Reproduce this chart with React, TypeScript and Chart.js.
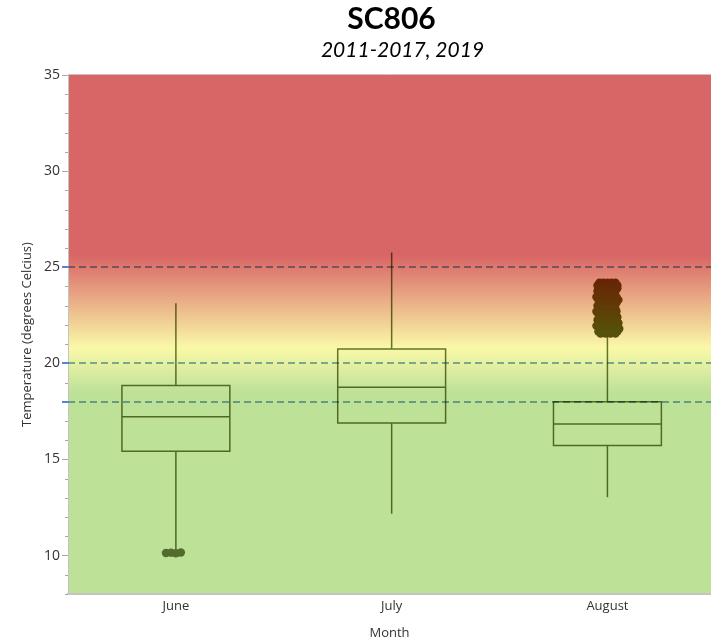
import React, { useEffect, useRef } from 'react';
import { Chart, registerables } from 'chart.js';
Chart.register(...registerables);

// ---- data ----
const months = ['June', 'July', 'August'];
const whiskerLow = [10.25, 12.18, 13.03];
const q1 = [15.42, 16.9, 15.72];
const median = [17.22, 18.75, 16.85];
const q3 = [18.85, 20.74, 18.0];
const whiskerHigh = [23.13, 25.76, 21.45];

// June outliers
const juneOutX = [-0.046, -0.023, 0.0, 0.023];
const juneOutY = [10.13, 10.15, 10.12, 10.16];

// August outliers (rows of the cluster)
const augRowY = [24.2, 24.05, 23.9, 23.75, 23.6, 23.45, 23.3, 23.15, 23.0, 22.85, 22.7, 22.55, 22.4, 22.25, 22.1, 21.95, 21.8, 21.65, 21.55];
const augRowX = [
  [-0.037, -0.019, 0.0, 0.019, 0.037],
  [-0.046, -0.028, -0.009, 0.009, 0.028, 0.046],
  [-0.042, -0.023, 0.0, 0.023, 0.046],
  [-0.046, -0.028, -0.009, 0.014, 0.037],
  [-0.037, -0.014, 0.009, 0.032],
  [-0.051, -0.028, 0.0, 0.023, 0.042],
  [-0.042, -0.019, 0.009, 0.032, 0.051],
  [-0.032, -0.009, 0.019, 0.042],
  [-0.046, -0.023, 0.0, 0.028],
  [-0.037, -0.014, 0.014, 0.037],
  [-0.051, -0.028, -0.005, 0.019, 0.042],
  [-0.042, -0.019, 0.005, 0.032],
  [-0.032, -0.009, 0.019, 0.046],
  [-0.046, -0.023, 0.0, 0.023, 0.042],
  [-0.037, -0.014, 0.009, 0.032, 0.051],
  [-0.051, -0.023, 0.0, 0.023, 0.046],
  [-0.037, -0.014, 0.009, 0.032, 0.055],
  [-0.042, -0.019, 0.005, 0.028, 0.046],
  [-0.032, -0.009, 0.014, 0.037],
];

const thresholds = [25, 20, 18];
const bandValues = [25.6, 20.8, 18.5];
const bandColors = ['rgb(217,102,102)', 'rgb(250,249,168)', 'rgb(190,225,152)'];

const titleText = 'SC806';
const subtitleText = '2011-2017, 2019';
const yTitle = 'Temperature (degrees Celcius)';
const xTitle = 'Month';

const FONT = '"Open Sans", sans-serif';

// outlier colour by temperature (style only)
const dotStops: [number, number[]][] = [
  [24.2, [104, 36, 6]],
  [22.9, [98, 58, 6]],
  [21.6, [86, 80, 10]],
  [20.0, [80, 100, 36]],
];
function dotColor(v: number) {
  if (v >= dotStops[0][0]) return `rgb(${dotStops[0][1].join(',')})`;
  for (let i = 0; i < dotStops.length - 1; i++) {
    const [v0, c0] = dotStops[i];
    const [v1, c1] = dotStops[i + 1];
    if (v <= v0 && v >= v1) {
      const t = (v0 - v) / (v0 - v1);
      const c = c0.map((k, j) => Math.round(k + (c1[j] - k) * t));
      return `rgb(${c.join(',')})`;
    }
  }
  return 'rgb(82,108,44)';
}

const chartPlugin = {
  id: 'boxesAndBands',
  beforeDraw(chart: any) {
    const { ctx, chartArea: a, scales } = chart;
    const y = scales.y;
    const h = a.bottom - a.top;
    const stop = (v: number) => Math.min(1, Math.max(0, (y.getPixelForValue(v) - a.top) / h));
    const g = ctx.createLinearGradient(0, a.top, 0, a.bottom);
    g.addColorStop(0, bandColors[0]);
    bandValues.forEach((v, i) => g.addColorStop(stop(v), bandColors[i]));
    g.addColorStop(1, bandColors[bandColors.length - 1]);
    ctx.save();
    ctx.fillStyle = g;
    ctx.fillRect(a.left, a.top, a.right - a.left, h);
    ctx.restore();
  },
  beforeDatasetsDraw(chart: any) {
    const { ctx, chartArea: a, scales } = chart;
    const x = scales.x;
    const y = scales.y;
    ctx.save();
    ctx.globalCompositeOperation = 'multiply';
    ctx.strokeStyle = 'rgb(140,175,218)';
    ctx.lineWidth = 2;
    ctx.setLineDash([7, 4]);
    thresholds.forEach((t) => {
      const py = Math.round(y.getPixelForValue(t));
      ctx.beginPath();
      ctx.moveTo(a.left, py);
      ctx.lineTo(a.right, py);
      ctx.stroke();
    });
    ctx.setLineDash([]);
    ctx.strokeStyle = 'rgb(104,120,52)';
    ctx.lineWidth = 1.5;
    months.forEach((_, i) => {
      const cx = x.getPixelForValue(i);
      const half = x.getPixelForValue(i + 0.25) - cx;
      const yq1 = y.getPixelForValue(q1[i]);
      const yq3 = y.getPixelForValue(q3[i]);
      const ym = y.getPixelForValue(median[i]);
      const ylo = y.getPixelForValue(whiskerLow[i]);
      const yhi = y.getPixelForValue(whiskerHigh[i]);
      ctx.beginPath();
      ctx.rect(cx - half, yq3, half * 2, yq1 - yq3);
      ctx.moveTo(cx - half, ym);
      ctx.lineTo(cx + half, ym);
      ctx.moveTo(cx, yq3);
      ctx.lineTo(cx, yhi);
      ctx.moveTo(cx, yq1);
      ctx.lineTo(cx, ylo);
      ctx.stroke();
    });
    ctx.restore();
  },
  afterDraw(chart: any) {
    const { ctx, chartArea: a, scales } = chart;
    const y = scales.y;
    ctx.save();
    ctx.strokeStyle = '#a8a8a8';
    ctx.lineWidth = 1;
    for (let v = Math.ceil(y.min); v <= y.max; v++) {
      if (v % 5 === 0) continue;
      const py = Math.round(y.getPixelForValue(v)) + 0.5;
      ctx.beginPath();
      ctx.moveTo(a.left - 3, py);
      ctx.lineTo(a.left, py);
      ctx.stroke();
    }
    ctx.strokeStyle = '#c4c4c4';
    ctx.beginPath();
    ctx.moveTo(a.left, a.top - 0.5);
    ctx.lineTo(a.right, a.top - 0.5);
    ctx.stroke();
    ctx.strokeStyle = 'rgb(90,130,210)';
    ctx.lineWidth = 2;
    thresholds.forEach((t) => {
      const py = Math.round(y.getPixelForValue(t));
      ctx.beginPath();
      ctx.moveTo(a.left - 6, py);
      ctx.lineTo(a.left, py);
      ctx.stroke();
    });
    const cx = (a.left + a.right) / 2;
    ctx.fillStyle = '#000';
    ctx.textAlign = 'center';
    ctx.textBaseline = 'middle';
    ctx.font = 'bold 30px Lato, sans-serif';
    ctx.fillText(titleText, cx + 2, 19);
    ctx.font = 'italic 21px Lato, sans-serif';
    ctx.fillText(subtitleText, cx + 13, 50);
    ctx.restore();
  },
};

export default function App() {
  const ref = useRef<HTMLCanvasElement | null>(null);
  useEffect(() => {
    document.body.style.margin = '0';
    document.body.style.overflow = 'hidden';
    const canvas = ref.current;
    if (!canvas) return;
    const points: { x: number; y: number }[] = [];
    juneOutX.forEach((dx, i) => points.push({ x: 0 + dx, y: juneOutY[i] }));
    augRowY.forEach((v, r) => augRowX[r].forEach((dx) => points.push({ x: 2 + dx, y: v })));
    const chart = new Chart(canvas, {
      type: 'scatter',
      data: {
        datasets: [
          {
            label: 'outliers',
            data: points,
            pointRadius: 4.2,
            pointHoverRadius: 4.2,
            borderWidth: 0,
            pointBorderWidth: 0,
            pointBorderColor: 'rgba(0,0,0,0)',
            pointBackgroundColor: (c: any) => dotColor(c.raw ? c.raw.y : 20),
            showLine: false,
          },
        ],
      },
      options: {
        responsive: false,
        animation: false,
        devicePixelRatio: 1,
        layout: { autoPadding: false, padding: { top: 75, left: 0, right: 0, bottom: 0 } },
        plugins: {
          legend: { display: false },
          tooltip: { enabled: false },
          title: { display: false },
        },
        events: [],
        scales: {
          x: {
            type: 'linear',
            min: -0.5,
            max: 2.48,
            afterBuildTicks: (scale: any) => {
              scale.ticks = months.map((_, i) => ({ value: i }));
            },
            afterFit: (scale: any) => {
              scale.height = 47;
              scale.paddingLeft = 0;
              scale.paddingRight = 0;
            },
            ticks: {
              callback: (v: any) => months[v] ?? '',
              font: { family: FONT, size: 13 },
              color: '#333',
              padding: 4,
              maxRotation: 0,
              autoSkip: false,
            },
            grid: { display: false, drawTicks: false },
            border: { display: true, color: '#c4c4c4', width: 2 },
            title: {
              display: true,
              text: xTitle,
              font: { family: FONT, size: 13 },
              color: '#333',
              padding: { top: 0, bottom: 0 },
            },
          },
          y: {
            type: 'linear',
            min: 8,
            max: 35,
            afterFit: (scale: any) => {
              scale.width = 68;
              scale.paddingTop = 0;
              scale.paddingBottom = 0;
            },
            ticks: {
              stepSize: 1,
              autoSkip: false,
              callback: (v: any) => (v % 5 === 0 ? String(v) : ''),
              font: { family: FONT, size: 14 },
              color: '#333',
              padding: 2,
            },
            grid: {
              drawOnChartArea: false,
              drawTicks: true,
              tickLength: 6,
              tickColor: (c: any) => (c.tick && c.tick.value % 5 === 0 ? '#a8a8a8' : 'rgba(0,0,0,0)'),
            },
            border: { display: true, color: '#c4c4c4', width: 1 },
            title: {
              display: true,
              text: yTitle,
              font: { family: FONT, size: 13 },
              color: '#333',
              padding: { top: 19, bottom: 0 },
            },
          },
        },
      },
      plugins: [chartPlugin],
    } as any);
    return () => chart.destroy();
  }, []);
  return (
    <div style={{ width: 711, height: 641 }}>
      <canvas ref={ref} width={711} height={641} style={{ display: 'block' }} />
    </div>
  );
}
